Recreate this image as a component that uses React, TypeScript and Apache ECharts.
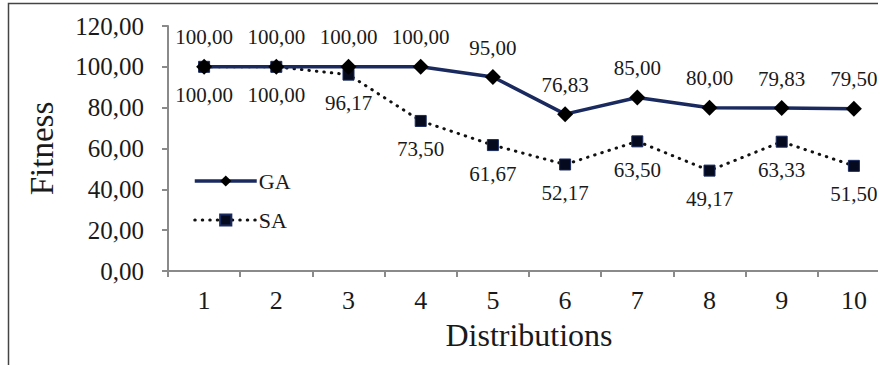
import React, { useEffect, useRef } from "react";
import * as echarts from "echarts";

const categories = ["1", "2", "3", "4", "5", "6", "7", "8", "9", "10"];
const gaValues = [100, 100, 100, 100, 95, 76.83, 85, 80, 79.83, 79.5];
const saValues = [100, 100, 96.17, 73.5, 61.67, 52.17, 63.5, 49.17, 63.33, 51.5];
const yMin = 0;
const yMax = 120;
const yInterval = 20;

const FONT = '"Liberation Serif", "Times New Roman", serif';
const fmt = (v: number) => v.toFixed(2).replace(".", ",");

export default function App() {
  const ref = useRef<HTMLDivElement>(null);
  useEffect(() => {
    if (!ref.current) return;
    const chart = echarts.init(ref.current, null, { renderer: "svg" });
    chart.setOption({
      animation: false,
      backgroundColor: "#ffffff",
      textStyle: { fontFamily: FONT },
      graphic: [
        {
          type: "rect",
          shape: { x: 8.5, y: 3.5, width: 900, height: 420 },
          style: { fill: "none", stroke: "#444", lineWidth: 1.5 },
          silent: true,
          z: -1,
        },
      ],
      grid: {
        left: 168,
        top: 26,
        bottom: 94,
        right: -12,
        containLabel: false,
        outerBoundsMode: "none",
      },
      legend: {
        orient: "vertical",
        left: 188,
        top: 165,
        itemWidth: 62,
        itemHeight: 14,
        itemGap: 17,
        textStyle: { fontFamily: FONT, fontSize: 22, color: "#1a1a1a", padding: [0, 0, 0, -3] },
        data: [
          { name: "GA", lineStyle: { width: 3.5, color: "#1a2a5e" } },
          { name: "SA", lineStyle: { width: 3, color: "#111", type: [0.5, 7], cap: "round" } },
        ],
      },
      xAxis: {
        type: "category",
        data: categories,
        boundaryGap: true,
        name: "Distributions",
        nameLocation: "middle",
        nameGap: 48,
        nameTextStyle: { fontFamily: FONT, fontSize: 32, color: "#1a1a1a" },
        axisLine: { lineStyle: { color: "#8a8a8a", width: 2 } },
        axisTick: { show: true, length: 6, lineStyle: { color: "#8a8a8a", width: 2 } },
        axisLabel: { fontFamily: FONT, fontSize: 26, color: "#1a1a1a", margin: 16 },
        splitLine: { show: false },
      },
      yAxis: {
        type: "value",
        min: yMin,
        max: yMax,
        interval: yInterval,
        name: "Fitness",
        nameLocation: "middle",
        nameRotate: 90,
        nameGap: 110,
        nameTextStyle: { fontFamily: FONT, fontSize: 33, color: "#1a1a1a" },
        axisLine: { show: true, lineStyle: { color: "#8a8a8a", width: 2 } },
        axisTick: { show: true, length: 6, lineStyle: { color: "#8a8a8a", width: 2 } },
        axisLabel: {
          fontFamily: FONT,
          fontSize: 25,
          color: "#1a1a1a",
          margin: 24,
          formatter: (v: number) => fmt(v),
        },
        splitLine: { show: false },
      },
      series: [
        {
          name: "SA",
          type: "line",
          data: saValues,
          symbol: "rect",
          symbolSize: 11,
          z: 2,
          lineStyle: { color: "#111", width: 3, type: [0.5, 7], cap: "round" },
          itemStyle: { color: "#050a1e", borderColor: "#1a2a5e", borderWidth: 1 },
          label: {
            show: true,
            position: "bottom",
            distance: 12,
            fontFamily: FONT,
            fontSize: 21,
            color: "#1a1a1a",
            formatter: (p: any) => fmt(p.value),
          },
        },
        {
          name: "GA",
          type: "line",
          data: gaValues,
          symbol: "diamond",
          symbolSize: 16,
          z: 3,
          lineStyle: { color: "#1a2a5e", width: 3.5 },
          itemStyle: { color: "#000000" },
          label: {
            show: true,
            position: "top",
            distance: 11,
            fontFamily: FONT,
            fontSize: 21,
            color: "#1a1a1a",
            formatter: (p: any) => fmt(p.value),
          },
        },
      ],
    });
    return () => chart.dispose();
  }, []);
  return (
    <div
      ref={ref}
      style={{ position: "absolute", left: 0, top: 0, width: 878, height: 365 }}
    />
  );
}
